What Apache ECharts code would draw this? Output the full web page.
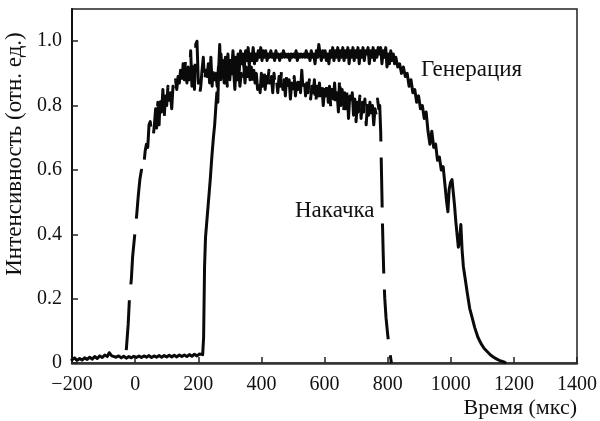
<!DOCTYPE html>
<html>
<head>
<meta charset="utf-8">
<style>
  html, body { margin: 0; padding: 0; background: #fff; }
  #chart { width: 600px; height: 421px; }
</style>
<script src="https://cdn.jsdelivr.net/npm/echarts@6/dist/echarts.min.js"></script>
</head>
<body>
<div id="chart"></div>
<script>
// Time axis ticks (μs) and intensity ticks (arb. units)
const xTicks = [-200, 0, 200, 400, 600, 800, 1000, 1200, 1400];
const yTicks = [0, 0.2, 0.4, 0.6, 0.8, 1.0];

// Lasing output ("Генерация"): [time, intensity]
const generation = [
  [-200,0.010],[-192,0.016],[-184,0.008],[-176,0.014],[-168,0.009],[-160,0.016],[-152,0.011],[-144,0.018],
  [-136,0.012],[-128,0.020],[-120,0.014],[-112,0.022],[-104,0.017],[-96,0.025],[-88,0.020],[-82,0.032],
  [-78,0.036],[-74,0.022],[-68,0.027],[-60,0.018],[-52,0.022],[-44,0.016],[-36,0.021],[-28,0.015],
  [-20,0.020],[-12,0.016],[-4,0.021],[4,0.017],[12,0.022],[20,0.017],[28,0.022],[36,0.018],
  [44,0.023],[52,0.017],[60,0.022],[68,0.018],[76,0.023],[84,0.018],[92,0.023],[100,0.019],
  [108,0.024],[116,0.019],[124,0.024],[132,0.019],[140,0.025],[148,0.020],[156,0.025],[164,0.020],
  [172,0.026],[180,0.021],[188,0.027],[196,0.022],[204,0.028],[210,0.023],[214,0.026],[217,0.08],
  [220,0.30],[223,0.39],[228,0.45],[233,0.51],[238,0.57],[243,0.64],[248,0.70],[252,0.74],
  [256,0.80],[259,0.84],[262,0.81],[265,0.92],[268,0.99],[271,0.88],
  [274,0.90],[278,0.94],[282,0.87],[286,0.95],[290,0.90],[294,0.96],[298,0.89],[302,0.94],
  [306,0.91],[310,0.97],[314,0.90],[318,0.95],[322,0.92],[326,0.96],[330,0.91],[334,0.97],
  [338,0.93],[342,0.96],[346,0.92],[350,0.97],[354,0.94],[358,0.98],[362,0.93],[366,0.96],
  [370,0.94],[374,0.98],[378,0.93],[382,0.96],[386,0.94],[390,0.97],[394,0.95],[398,0.98],
  [402,0.94],[406,0.97],[410,0.95],[414,0.97],[418,0.94],[422,0.96],[426,0.95],[430,0.97],
  [434,0.95],[438,0.96],[442,0.94],[446,0.97],[450,0.95],[454,0.96],[458,0.94],[462,0.96],
  [466,0.95],[470,0.97],[474,0.95],[478,0.96],[482,0.95],[486,0.96],[490,0.94],[494,0.96],
  [498,0.95],[502,0.96],[506,0.95],[510,0.97],[514,0.94],[518,0.96],[522,0.95],[526,0.96],
  [530,0.95],[534,0.96],[538,0.95],[542,0.97],[546,0.95],[550,0.96],[554,0.94],[558,0.97],
  [562,0.95],[566,0.96],[570,0.93],[574,0.97],[578,0.95],[582,0.99],[586,0.96],[590,0.94],
  [594,0.97],[598,0.95],[602,0.97],[606,0.94],[610,0.96],[614,0.93],[618,0.97],[622,0.95],
  [626,0.98],[630,0.94],[634,0.97],[638,0.95],[642,0.98],[646,0.94],[650,0.97],[654,0.95],
  [658,0.98],[662,0.94],[666,0.97],[670,0.95],[674,0.98],[678,0.93],[682,0.97],[686,0.95],
  [690,0.98],[694,0.94],[698,0.97],[702,0.95],[706,0.98],[710,0.93],[714,0.97],[718,0.95],
  [722,0.98],[726,0.94],[730,0.97],[734,0.96],[738,0.98],[742,0.93],[746,0.97],[750,0.95],
  [754,0.98],[758,0.94],[762,0.97],[766,0.95],[770,0.98],[774,0.96],[778,0.98],[782,0.93],
  [786,0.97],[790,0.95],[794,0.98],[798,0.92],[802,0.96],[806,0.93],[810,0.97],[814,0.94],
  [818,0.96],[822,0.93],[826,0.95],[832,0.92],[838,0.93],[844,0.90],[850,0.92],[856,0.89],
  [862,0.90],[868,0.86],[874,0.88],[880,0.84],[886,0.85],[892,0.81],[898,0.83],[904,0.79],
  [910,0.80],[916,0.76],[922,0.78],[928,0.72],[934,0.68],[940,0.72],[946,0.67],[952,0.68],
  [958,0.63],[964,0.64],[970,0.60],[976,0.61],[982,0.55],[987,0.50],[991,0.47],[995,0.54],
  [999,0.56],[1004,0.57],[1008,0.53],[1012,0.49],[1016,0.44],[1020,0.40],[1024,0.36],[1028,0.38],
  [1032,0.43],[1036,0.35],[1040,0.30],[1046,0.26],[1052,0.22],[1060,0.17],[1068,0.14],[1076,0.11],
  [1086,0.08],[1096,0.06],[1106,0.045],[1116,0.035],[1126,0.025],[1136,0.018],[1146,0.012],[1156,0.007],
  [1166,0.004],[1172,0.002]
];

// Pump pulse ("Накачка"): [time, intensity]
const pump = [
  [-28,0.04],[-22,0.12],[-18,0.20],[-12,0.26],[-8,0.33],[-3,0.38],[0,0.41],[5,0.46],
  [10,0.52],[15,0.57],[20,0.60],[24,0.63],[28,0.62],[32,0.66],[36,0.68],[40,0.67],
  [44,0.74],[48,0.75],[52,0.71],[57,0.70],[61,0.74],[65,0.79],[68,0.73],[72,0.81],
  [76,0.74],[80,0.84],[84,0.78],[88,0.85],[92,0.76],[96,0.83],[100,0.80],[104,0.86],
  [108,0.81],[112,0.84],[116,0.79],[120,0.86],[124,0.84],[128,0.88],[132,0.85],[136,0.89],
  [140,0.87],[144,0.91],[148,0.86],[152,0.93],[156,0.88],[160,0.95],[164,0.87],[168,0.92],
  [172,0.88],[176,0.97],[180,0.86],[184,0.93],[188,0.85],[192,0.99],[196,1.00],[200,0.88],
  [204,0.83],[208,0.86],[212,0.91],[216,0.95],[220,0.87],[224,0.91],[228,0.89],[232,0.93],
  [236,0.87],[240,0.95],[244,0.86],[248,0.93],[252,0.88],[256,0.90],[260,0.86],[264,0.92],
  [268,0.87],[272,0.96],[276,0.90],[280,0.93],
  [284,0.87],[288,0.93],[292,0.86],[296,0.92],[300,0.88],[304,0.94],[308,0.87],[312,0.91],
  [316,0.85],[320,0.93],[324,0.88],[328,0.92],[332,0.86],[336,0.90],[340,0.88],[344,0.93],
  [348,0.87],[352,0.92],[356,0.89],[360,0.95],[364,0.88],[368,0.92],[372,0.86],[376,0.91],
  [380,0.87],[384,0.90],[388,0.85],[392,0.89],[396,0.84],[400,0.90],[404,0.86],[408,0.92],
  [412,0.85],[416,0.89],[420,0.87],[424,0.91],[428,0.86],[432,0.89],[436,0.84],[440,0.90],
  [444,0.86],[448,0.88],[452,0.84],[456,0.89],[460,0.86],[464,0.91],[468,0.85],[472,0.88],
  [476,0.83],[480,0.89],[484,0.85],[488,0.88],[492,0.82],[496,0.87],[500,0.84],[504,0.89],
  [508,0.83],[512,0.87],[516,0.85],[520,0.90],[524,0.84],[528,0.91],[532,0.85],[536,0.88],
  [540,0.83],[544,0.87],[548,0.84],[552,0.88],[556,0.82],[560,0.86],[564,0.84],[568,0.88],
  [572,0.80],[576,0.86],[580,0.83],[584,0.87],[588,0.82],[592,0.86],[596,0.80],[600,0.85],
  [604,0.83],[608,0.88],[612,0.81],[616,0.86],[620,0.79],[624,0.85],[628,0.82],[632,0.87],
  [636,0.80],[640,0.84],[644,0.78],[648,0.89],[652,0.80],[656,0.85],[660,0.77],[664,0.84],
  [668,0.79],[672,0.86],[676,0.76],[680,0.83],[684,0.79],[688,0.84],[692,0.77],[696,0.82],
  [700,0.75],[704,0.81],[708,0.78],[712,0.83],[716,0.76],[720,0.81],[724,0.78],[728,0.82],
  [732,0.74],[736,0.80],[740,0.77],[744,0.81],[748,0.76],[752,0.80],[756,0.74],[760,0.79],
  [764,0.77],[768,0.82],[772,0.79],[775,0.80],[778,0.72],[780,0.62],[782,0.52],[784,0.42],
  [786,0.34],[788,0.27],[791,0.20],[795,0.14],[800,0.09],[806,0.04],[812,0.00]
];

const SERIF = "'Liberation Serif', 'Times New Roman', 'DejaVu Serif', serif";
const INK = '#0a0a0a';
const TEXT = '#111';

const chart = echarts.init(document.getElementById('chart'), null, { renderer: 'canvas' });

chart.setOption({
  animation: false,
  backgroundColor: '#ffffff',
  grid: {
    left: 72, right: 22, top: 9, bottom: 58,
    show: true, borderColor: '#222', borderWidth: 1.5, backgroundColor: 'transparent'
  },
  xAxis: {
    type: 'value',
    min: xTicks[0], max: xTicks[xTicks.length - 1], interval: 200,
    name: 'Время (мкс)',
    nameLocation: 'end',
    nameGap: 0,
    nameTextStyle: {
      fontFamily: SERIF, fontSize: 22, color: TEXT,
      align: 'right', verticalAlign: 'top', padding: [34, 0, 0, 0]
    },
    axisLine: { show: true, onZero: false, lineStyle: { color: '#333', width: 2.5 } },
    axisTick: { show: true, inside: true, length: 6, lineStyle: { color: '#222', width: 1.5 } },
    splitLine: { show: false },
    axisLabel: {
      fontFamily: SERIF, fontSize: 20, color: TEXT, margin: 12,
      formatter: v => (v < 0 ? '\u2212' + Math.abs(v) : String(v))
    }
  },
  yAxis: {
    type: 'value',
    min: 0, max: 1.1, interval: 0.2,
    axisLine: { show: true, onZero: false, lineStyle: { color: '#111', width: 2 } },
    axisTick: { show: true, inside: true, length: 6, lineStyle: { color: '#222', width: 1.5 } },
    splitLine: { show: false },
    axisLabel: {
      fontFamily: SERIF, fontSize: 20, color: TEXT, margin: 10,
      showMaxLabel: false,
      formatter: v => (yTicks.some(t => Math.abs(t - v) < 1e-9) ? (v === 0 ? '0' : v.toFixed(1)) : '')
    }
  },
  series: [
    {
      name: 'Генерация',
      type: 'line',
      data: generation,
      showSymbol: false,
      smooth: false,
      lineStyle: { color: INK, width: 3, join: 'round', cap: 'round' },
      z: 3
    },
    {
      name: 'Накачка',
      type: 'line',
      data: pump,
      showSymbol: false,
      smooth: false,
      lineStyle: { color: INK, width: 3, type: [50, 16], join: 'round', cap: 'butt' },
      z: 2
    }
  ],
  graphic: [
    {
      // vertical axis title
      type: 'text', x: 15, y: 154, rotation: Math.PI / 2,
      style: {
        text: 'Интенсивность (отн. ед.)', font: "23px " + SERIF, fill: TEXT,
        align: 'center', verticalAlign: 'middle'
      }
    },
    {
      type: 'text', left: 421, top: 58,
      style: { text: 'Генерация', font: "23px " + SERIF, fill: TEXT }
    },
    {
      type: 'text', left: 295, top: 199,
      style: { text: 'Накачка', font: "23px " + SERIF, fill: TEXT }
    }
  ]
});
</script>
</body>
</html>
